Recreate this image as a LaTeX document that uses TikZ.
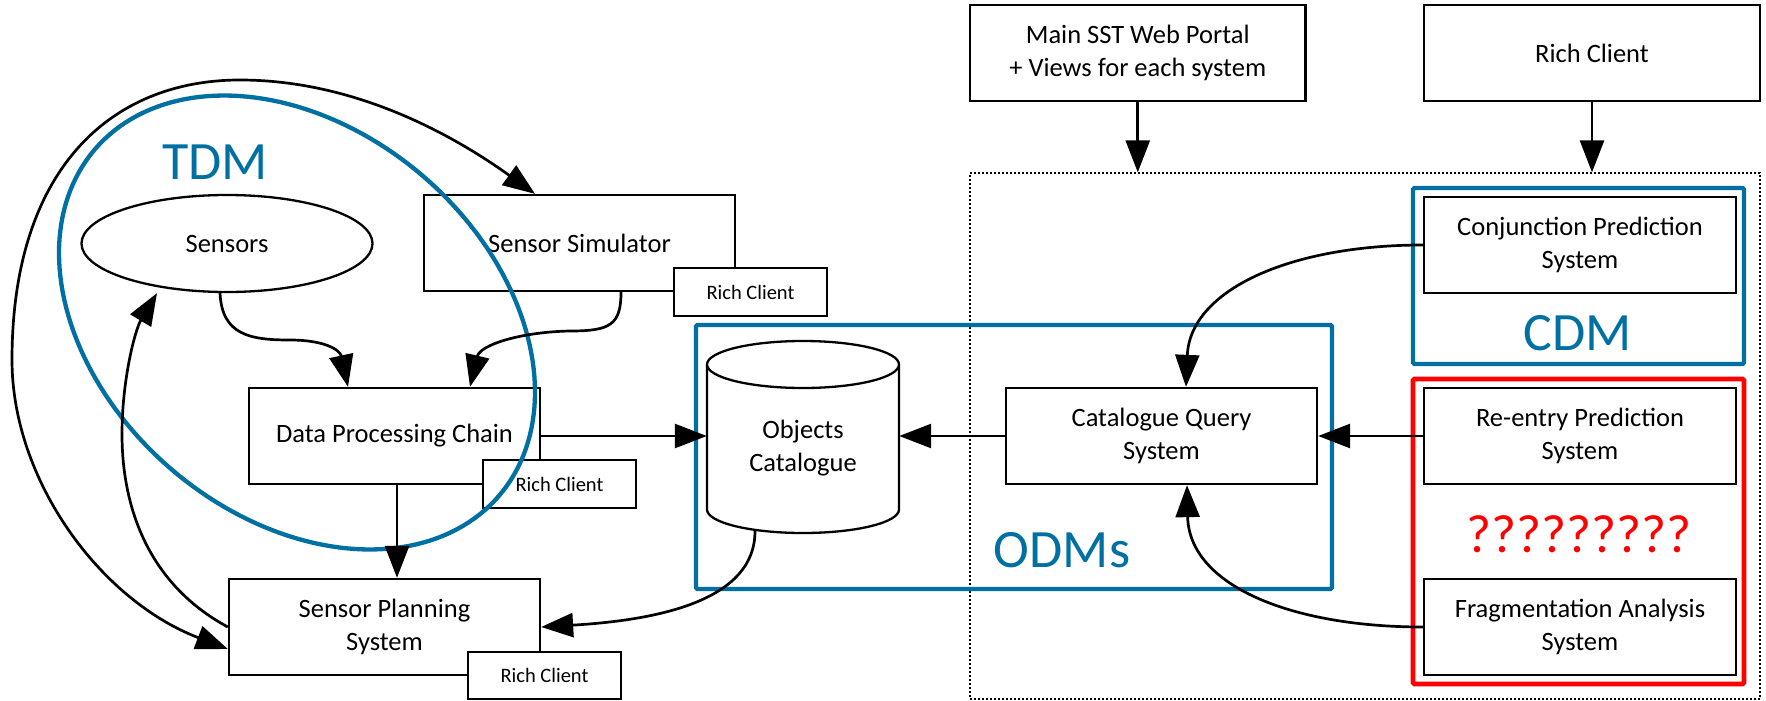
\documentclass[tikz,border=0pt]{standalone}
\usepackage{fontspec}
\setmainfont{Carlito}
\usetikzlibrary{arrows.meta,shapes.geometric,calc}
\definecolor{esablue}{RGB}{0,112,163}
\definecolor{qred}{RGB}{255,0,0}
\newcommand\txtmain{\fontsize{26.5}{33}\selectfont}
\newcommand\txtsmall{\fontsize{20.5}{24}\selectfont}
\newcommand\txtbig{\fontsize{54}{60}\selectfont}
\begin{document}
\begin{tikzpicture}[x=1pt,y=-1pt,
  box/.style={draw=black, line width=2.3pt, fill=white, inner sep=0pt, align=center, font=\txtmain},
  rcbox/.style={draw=black, line width=2.3pt, fill=white, inner sep=0pt, font=\txtsmall, minimum width=153pt, minimum height=48pt},
  arr/.style={line width=2.7pt, -{Triangle[length=32pt,width=24pt]}},
  dblarr/.style={line width=2.7pt, {Triangle[length=32pt,width=24pt]}-{Triangle[length=32pt,width=24pt]}},
  frameblue/.style={draw=esablue, line width=4.3pt, rounded corners=1.5pt, inner sep=0pt},
  framered/.style={draw=qred, line width=4.7pt, rounded corners=1.5pt, inner sep=0pt},
  biglabel/.style={inner sep=0pt, font=\txtbig},
]
\useasboundingbox (0,0) rectangle (1766,701);

% dotted system boundary
\node[draw=black, line width=1.3pt, dash pattern=on 2pt off 2pt, minimum width=790pt, minimum height=526pt, inner sep=0pt] (dbox) at (1365,436) {};

% top boxes
\node[box, minimum width=335.5pt, minimum height=96pt] (portal) at (1137.75,53) {Main SST Web Portal\\+ Views for each system};
\node[box, minimum width=336pt, minimum height=96pt] (rctop) at (1592,53) {Rich Client};

% left part
\node[box, ellipse, minimum width=291pt, minimum height=97pt] (sensors) at (227,243.5) {Sensors};
\node[box, minimum width=311pt, minimum height=96pt] (simu) at (579.5,243) {Sensor Simulator};
\node[rcbox] (rcsimu) at (750.5,292) {Rich Client};
\node[box, minimum width=291pt, minimum height=96pt] (dpc) at (394.5,436) {Data Processing Chain};
\node[rcbox] (rcdpc) at (559.5,484) {Rich Client};
\node[box, minimum width=311pt, minimum height=96pt] (sps) at (384.5,627) {Sensor Planning\\System};
\node[rcbox, minimum height=47pt] (rcsps) at (544.5,675.5) {Rich Client};

% objects catalogue (cylinder)
\node[inner sep=0pt, minimum width=192pt, minimum height=192pt] (oc) at (803,437) {};
\draw[line width=2.3pt, fill=white] (707,364.5) -- (707,509.5)
  .. controls (707,522.5) and (750,533) .. (803,533)
  .. controls (856,533) and (899,522.5) .. (899,509.5) -- (899,364.5);
\draw[line width=2.3pt, fill=white] (707,364.5)
  .. controls (707,351.5) and (750,341) .. (803,341)
  .. controls (856,341) and (899,351.5) .. (899,364.5)
  .. controls (899,377.5) and (856,388) .. (803,388)
  .. controls (750,388) and (707,377.5) .. (707,364.5) -- cycle;
\node[inner sep=0pt, align=center, font=\txtmain] (octext) at (803,448) {Objects\\Catalogue};

% right part
\node[box, minimum width=311pt, minimum height=96pt] (cqs) at (1161.5,436) {Catalogue Query\\System};
\node[box, minimum width=312pt, minimum height=96pt] (cps) at (1580,245) {Conjunction Prediction\\System};
\node[box, minimum width=312pt, minimum height=96pt] (reps) at (1580,436) {Re-entry Prediction\\System};
\node[box, minimum width=312pt, minimum height=96pt] (fas) at (1580,627) {Fragmentation Analysis\\System};

% frames
\node[frameblue, minimum width=636pt, minimum height=264pt] (odm) at (1014,457) {};
\node[frameblue, minimum width=331pt, minimum height=176pt] (cdm) at (1578.5,276) {};
\node[framered, minimum width=331pt, minimum height=305pt] (redf) at (1578.5,531.5) {};

% TDM ellipse
\draw[esablue, line width=4.3pt] plot[domain=0:360, samples=181, variable=\t]
  ({297+202.1*cos(\t)-125.7*sin(\t)}, {322.5+173.2*cos(\t)+146.7*sin(\t)}) -- cycle;

% connectors
\draw[arr] (portal.south) -- (portal.south |- dbox.north);
\draw[arr] (rctop.south) -- (rctop.south |- dbox.north);
\draw[arr] (cps.west) .. controls (1290,245) and (1190,290) .. ($(cqs.north)+(24.5,0)$);
\draw[arr] (reps.west) -- (cqs.east);
\draw[arr] (fas.west) .. controls (1290,627) and (1189,585) .. ($(cqs.south)+(25.5,0)$);
\draw[arr] (cqs.west) -- (cqs.west -| oc.east);
\draw[arr] (dpc.east) -- (dpc.east -| oc.west);
\draw[arr] ($(oc.south)+(-48,-2)$) .. controls (755,600) and (660,620) .. (sps.east);
\draw[arr] ($(dpc.south)+(2.5,0)$) -- ($(dpc.south |- sps.north)+(2.5,0)$);
\draw[arr] ($(sensors.south)+(-7,0)$) .. controls (222,335) and (250,340) .. (290,340)
  .. controls (325,340) and (340,350) .. ($(dpc.north)+(-46.5,0)$);
\draw[arr] ($(simu.south)+(41.5,0)$) .. controls (621,325) and (610,331) .. (570,331)
  .. controls (520,332) and (480,345) .. ($(dpc.north)+(75.5,0)$);
\draw[dblarr] ($(sps.west)+(0,22)$) .. controls (100,600) and (12,480) .. (12,360)
  .. controls (12,170) and (110,80) .. (240,80)
  .. controls (360,80) and (460,140) .. ($(simu.north)+(-44.5,0)$);
\draw[arr] (sps.west) .. controls (150,585) and (122,510) .. (122,434)
  .. controls (122,380) and (135,330) .. ($(sensors.south)+(-70,0)$);

% group labels
\node[biglabel, text=esablue] (tdmlabel) at (215,162.5) {TDM};
\node[biglabel, text=esablue] (odmlabel) at (1062,550.5) {ODMs};
\node[biglabel, text=esablue] (cdmlabel) at (1578,333.5) {CDM};
\node[biglabel, text=qred] (qlabel) at (1579,534.5) {?????????};
\end{tikzpicture}
\end{document}
